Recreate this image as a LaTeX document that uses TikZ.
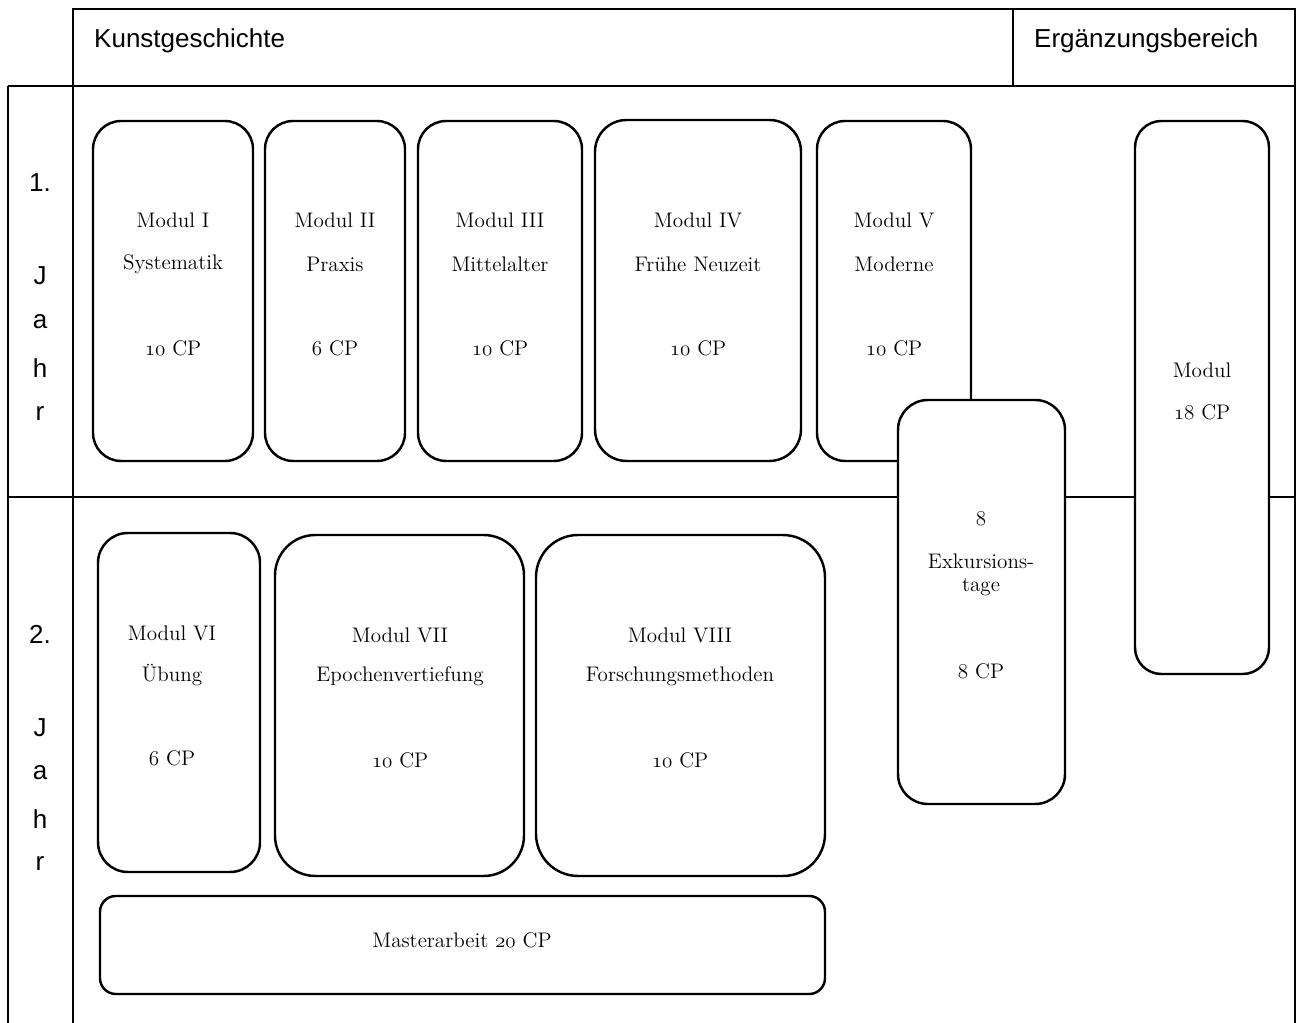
\documentclass[tikz,border=0pt]{standalone}
\usepackage{fontspec}
\setsansfont{Liberation Sans}
\newcommand{\osn}[1]{{\usefont{OML}{cmm}{m}{it}#1}}
\tikzset{
  grid/.style={line width=1.4pt},
  modbox/.style={line width=1.4pt, fill=white, rounded corners=#1},
  modbox/.default=9pt,
  modtext/.style={font=\fontsize{12}{14}\selectfont},
  headtext/.style={font=\sffamily\fontsize{14.8}{17}\selectfont},
}
\begin{document}
\begin{tikzpicture}[x=0.02cm, y=-0.02cm]
  \useasboundingbox (0,0) rectangle (1296,1023);
  \coordinate (HTL) at (73,9);
  \coordinate (HBR) at (1295,86);
  \coordinate (HMT) at (1013,9);
  \coordinate (HMB) at (1013,86);
  \coordinate (LT) at (8,86);
  \coordinate (LB) at (8,1023);
  \coordinate (IT) at (73,86);
  \coordinate (IB) at (73,1023);
  \coordinate (RT) at (1295,86);
  \coordinate (RB) at (1295,1023);
  \coordinate (ML) at (8,497);
  \coordinate (MR) at (1295,497);

  % table lines
  \draw[grid] (HTL) rectangle (HBR);
  \draw[grid] (HMT)--(HMB);
  \draw[grid] (LT)--(IT) (LT)--(LB) (HTL)--(IB) (RT)--(RB);
  \draw[grid] (ML)--(MR);

  \node[headtext, anchor=west] (kg) at (88,41) {Kunstgeschichte};
  \node[headtext, anchor=west] (eb) at (1028,41) {Ergänzungsbereich};

  % year labels
  \node[headtext] (y1) at (40,183) {1.};
  \node[headtext] (y1j) at (40,276) {J};
  \node[headtext] (y1a) at (40,322) {a};
  \node[headtext] (y1h) at (40,368) {h};
  \node[headtext] (y1r) at (40,414) {r};
  \node[headtext] (y2) at (40,634) {2.};
  \node[headtext] (y2j) at (40,728) {J};
  \node[headtext] (y2a) at (40,773) {a};
  \node[headtext] (y2h) at (40,819) {h};
  \node[headtext] (y2r) at (40,864) {r};

  % first year
  \draw[modbox=16pt] (93,121) rectangle (253,461);
  \draw[modbox=16pt] (265,121) rectangle (405,461);
  \draw[modbox=16pt] (418,121) rectangle (582,461);
  \draw[modbox=18pt] (595,120) rectangle (801,461);
  \draw[modbox=16pt] (817,121) rectangle (971,461);
  \draw[modbox=15pt] (1135,121) rectangle (1269,674);
  \draw[modbox=17pt] (898,400) rectangle (1065,804);

  \node[modtext] (m1a) at (173,220) {Modul I};
  \node[modtext] (m1b) at (173,264) {Systematik};
  \node[modtext] (m1c) at (173,348) {\osn{10} CP};
  \node[modtext] (m2a) at (335,220) {Modul II};
  \node[modtext] (m2b) at (335,264) {Praxis};
  \node[modtext] (m2c) at (335,348) {\osn{6} CP};
  \node[modtext] (m3a) at (500,220) {Modul III};
  \node[modtext] (m3b) at (500,264) {Mittelalter};
  \node[modtext] (m3c) at (500,348) {\osn{10} CP};
  \node[modtext] (m4a) at (698,220) {Modul IV};
  \node[modtext] (m4b) at (698,264) {Frühe Neuzeit};
  \node[modtext] (m4c) at (698,348) {\osn{10} CP};
  \node[modtext] (m5a) at (894,220) {Modul V};
  \node[modtext] (m5b) at (894,264) {Moderne};
  \node[modtext] (m5c) at (894,348) {\osn{10} CP};
  \node[modtext] (ea) at (1202,370) {Modul};
  \node[modtext] (eb2) at (1202,412) {\osn{18} CP};
  \node[modtext] (xa) at (981,519) {\osn{8}};
  \node[modtext] (xb) at (981,561) {Exkursions-};
  \node[modtext] (xc) at (981,587) {tage};
  \node[modtext] (xd) at (981,671) {\osn{8} CP};

  % second year
  \draw[modbox=17pt] (98,533) rectangle (260,872);
  \draw[modbox=23pt] (275,535) rectangle (524,876);
  \draw[modbox=24pt] (536,535) rectangle (825,876);
  \draw[modbox=9pt] (100,896) rectangle (825,994);

  \node[modtext] (m6a) at (172,633) {Modul VI};
  \node[modtext] (m6b) at (172,675) {Übung};
  \node[modtext] (m6c) at (172,758) {\osn{6} CP};
  \node[modtext] (m7a) at (400,635) {Modul VII};
  \node[modtext] (m7b) at (400,676) {Epochenvertiefung};
  \node[modtext] (m7c) at (400,760) {\osn{10} CP};
  \node[modtext] (m8a) at (680,635) {Modul VIII};
  \node[modtext] (m8b) at (680,676) {Forschungsmethoden};
  \node[modtext] (m8c) at (680,760) {\osn{10} CP};
  \node[modtext] (ma) at (462,940) {Masterarbeit \osn{20} CP};
\end{tikzpicture}
\end{document}
